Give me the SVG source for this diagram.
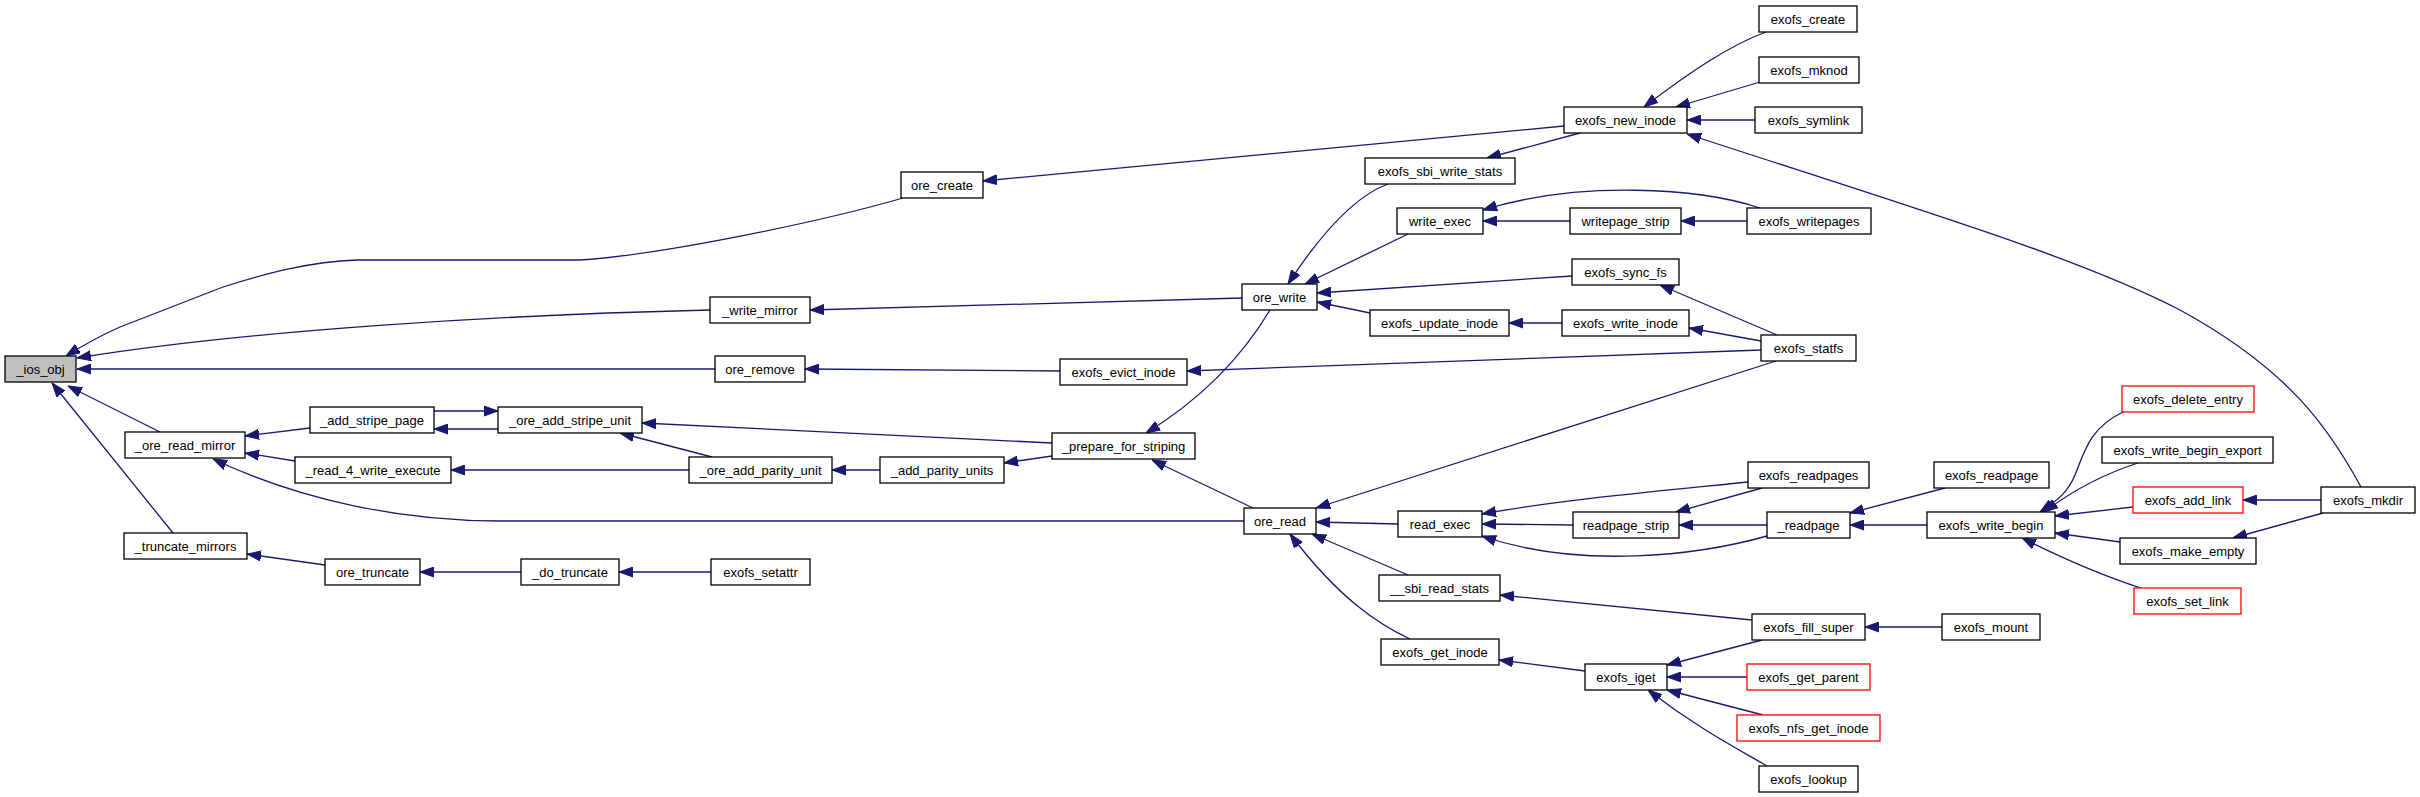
<svg xmlns="http://www.w3.org/2000/svg" width="2420" height="797" viewBox="0 0 2420 797">
<style>
.node rect{fill:#ffffff;stroke:#000000;stroke-width:1.3}
.node.root rect{fill:#bfbfbf}
.node.trunc rect{stroke:#ff0000}
.node text{font-family:"Liberation Sans",Arial,Helvetica,sans-serif;font-size:13px;fill:#000000;text-anchor:middle}
.edges path{fill:none;stroke:#191970;stroke-width:1.3;marker-end:url(#ah)}
</style>
<defs>
<marker id="ah" markerUnits="userSpaceOnUse" markerWidth="14" markerHeight="11" viewBox="0 0 14 11" refX="14" refY="5.5" orient="auto">
<path d="M0,0.5 L14,5.5 L0,10.5 z" fill="#191970" stroke="#191970" stroke-width="1"/>
</marker>
</defs>
<rect x="0" y="0" width="2420" height="797" fill="#ffffff"/>
<g id="edges" class="edges">
<path d="M903,198 C820,222 660,255 580,260 L357,260 C310,262 270,272 223,287 L120,327 C95,338 82,346 66,356"/>
<path d="M710,310 C500,315 250,330 77,358"/>
<path d="M715,369 L77,369"/>
<path d="M160,432 L68,386"/>
<path d="M173,533 L52,383"/>
<path d="M310,428 L245,436"/>
<path d="M295,461 L245,453"/>
<path d="M1244,521 L500,521 C400,521 300,500 213,459"/>
<path d="M498,429 L434,429"/>
<path d="M434,411 L498,411"/>
<path d="M689,470 L451,470"/>
<path d="M712,457 L620,433"/>
<path d="M1052,443 L642,423"/>
<path d="M880,470 L832,470"/>
<path d="M1052,456 L1004,463"/>
<path d="M1270,310 C1240,360 1200,400 1146,433"/>
<path d="M1253,508 L1152,460"/>
<path d="M1242,298 L810,310"/>
<path d="M1060,371 L805,369"/>
<path d="M1564,126 L983,181"/>
<path d="M1761,350 L1187,371"/>
<path d="M1572,276 L1317,293"/>
<path d="M1370,313 L1317,302"/>
<path d="M1408,234 L1305,284"/>
<path d="M1388,184 C1355,196 1320,235 1288,284"/>
<path d="M1580,133 L1487,158"/>
<path d="M1570,221 L1483,221"/>
<path d="M1760,208 C1700,188 1580,180 1483,210"/>
<path d="M1747,221 L1681,221"/>
<path d="M1562,323 L1509,323"/>
<path d="M1777,335 L1660,285"/>
<path d="M1761,341 L1689,328"/>
<path d="M1766,32 C1730,45 1690,72 1644,107"/>
<path d="M1760,82 L1676,107"/>
<path d="M1755,120 L1687,120"/>
<path d="M2361,487 C2330,430 2290,370 2180,310 C2080,258 1920,210 1687,134"/>
<path d="M1776,361 L1316,508"/>
<path d="M1398,524 L1316,522"/>
<path d="M1408,575 L1312,534"/>
<path d="M1410,639 C1380,625 1340,600 1290,534"/>
<path d="M1748,482 C1650,492 1560,500 1482,514"/>
<path d="M1573,525 L1482,524"/>
<path d="M1767,536 C1700,555 1580,570 1482,536"/>
<path d="M1762,488 L1676,512"/>
<path d="M1767,525 L1679,525"/>
<path d="M1927,525 L1850,525"/>
<path d="M1945,488 L1850,513"/>
<path d="M1752,620 L1500,595"/>
<path d="M1585,671 L1499,660"/>
<path d="M1762,640 L1667,665"/>
<path d="M1747,677 L1667,677"/>
<path d="M1763,715 L1667,690"/>
<path d="M1767,766 C1740,750 1700,730 1648,690"/>
<path d="M1942,627 L1865,627"/>
<path d="M2123,412 C2090,428 2085,450 2075,475 C2068,492 2058,500 2040,512"/>
<path d="M2138,463 C2110,472 2080,485 2044,512"/>
<path d="M2133,507 L2055,516"/>
<path d="M2120,542 L2055,533"/>
<path d="M2141,588 C2110,578 2070,562 2022,538"/>
<path d="M2321,500 L2243,500"/>
<path d="M2323,513 L2233,538"/>
<path d="M325,565 L247,554"/>
<path d="M521,572 L420,572"/>
<path d="M711,572 L619,572"/>
</g>
<g id="n_ios_obj" class="node root"><rect x="5" y="356" width="71" height="26"/><text x="40.5" y="373.5">_ios_obj</text></g>
<g id="n_ore_read_mirror" class="node"><rect x="125" y="432" width="120" height="26"/><text x="185" y="449.5">_ore_read_mirror</text></g>
<g id="n_truncate_mirrors" class="node"><rect x="124" y="533" width="123" height="26"/><text x="185.5" y="550.5">_truncate_mirrors</text></g>
<g id="n_add_stripe_page" class="node"><rect x="310" y="407" width="124" height="26"/><text x="372" y="424.5">_add_stripe_page</text></g>
<g id="n_read_4_write_execute" class="node"><rect x="295" y="457" width="156" height="26"/><text x="373" y="474.5">_read_4_write_execute</text></g>
<g id="n_ore_truncate" class="node"><rect x="325" y="559" width="95" height="26"/><text x="372.5" y="576.5">ore_truncate</text></g>
<g id="n_ore_add_stripe_unit" class="node"><rect x="498" y="407" width="144" height="26"/><text x="570" y="424.5">_ore_add_stripe_unit</text></g>
<g id="n_do_truncate" class="node"><rect x="521" y="559" width="98" height="26"/><text x="570" y="576.5">_do_truncate</text></g>
<g id="n_ore_add_parity_unit" class="node"><rect x="689" y="457" width="143" height="26"/><text x="760.5" y="474.5">_ore_add_parity_unit</text></g>
<g id="n_exofs_setattr" class="node"><rect x="711" y="559" width="99" height="26"/><text x="760.5" y="576.5">exofs_setattr</text></g>
<g id="n_write_mirror" class="node"><rect x="710" y="297" width="100" height="26"/><text x="760" y="314.5">_write_mirror</text></g>
<g id="n_ore_remove" class="node"><rect x="715" y="356" width="90" height="26"/><text x="760" y="373.5">ore_remove</text></g>
<g id="n_add_parity_units" class="node"><rect x="880" y="457" width="124" height="26"/><text x="942" y="474.5">_add_parity_units</text></g>
<g id="n_ore_create" class="node"><rect x="901" y="172" width="82" height="26"/><text x="942" y="189.5">ore_create</text></g>
<g id="n_prepare_for_striping" class="node"><rect x="1052" y="433" width="143" height="26"/><text x="1123.5" y="450.5">_prepare_for_striping</text></g>
<g id="n_exofs_evict_inode" class="node"><rect x="1060" y="359" width="127" height="26"/><text x="1123.5" y="376.5">exofs_evict_inode</text></g>
<g id="n_ore_write" class="node"><rect x="1242" y="284" width="75" height="26"/><text x="1279.5" y="301.5">ore_write</text></g>
<g id="n_ore_read" class="node"><rect x="1244" y="508" width="72" height="26"/><text x="1280" y="525.5">ore_read</text></g>
<g id="n_exofs_sbi_write_stats" class="node"><rect x="1365" y="158" width="150" height="26"/><text x="1440" y="175.5">exofs_sbi_write_stats</text></g>
<g id="n_write_exec" class="node"><rect x="1397" y="208" width="86" height="26"/><text x="1440" y="225.5">write_exec</text></g>
<g id="n_exofs_update_inode" class="node"><rect x="1370" y="310" width="139" height="26"/><text x="1439.5" y="327.5">exofs_update_inode</text></g>
<g id="n_read_exec" class="node"><rect x="1398" y="511" width="84" height="26"/><text x="1440" y="528.5">read_exec</text></g>
<g id="n_sbi_read_stats" class="node"><rect x="1379" y="575" width="121" height="26"/><text x="1439.5" y="592.5">__sbi_read_stats</text></g>
<g id="n_exofs_get_inode" class="node"><rect x="1381" y="639" width="118" height="26"/><text x="1440" y="656.5">exofs_get_inode</text></g>
<g id="n_exofs_new_inode" class="node"><rect x="1564" y="107" width="123" height="26"/><text x="1625.5" y="124.5">exofs_new_inode</text></g>
<g id="n_writepage_strip" class="node"><rect x="1570" y="208" width="111" height="26"/><text x="1625.5" y="225.5">writepage_strip</text></g>
<g id="n_exofs_sync_fs" class="node"><rect x="1572" y="259" width="107" height="26"/><text x="1625.5" y="276.5">exofs_sync_fs</text></g>
<g id="n_exofs_write_inode" class="node"><rect x="1562" y="310" width="127" height="26"/><text x="1625.5" y="327.5">exofs_write_inode</text></g>
<g id="n_readpage_strip" class="node"><rect x="1573" y="512" width="106" height="26"/><text x="1626" y="529.5">readpage_strip</text></g>
<g id="n_exofs_iget" class="node"><rect x="1585" y="664" width="82" height="26"/><text x="1626" y="681.5">exofs_iget</text></g>
<g id="n_exofs_create" class="node"><rect x="1759" y="6" width="98" height="26"/><text x="1808" y="23.5">exofs_create</text></g>
<g id="n_exofs_mknod" class="node"><rect x="1759" y="57" width="100" height="26"/><text x="1809" y="74.5">exofs_mknod</text></g>
<g id="n_exofs_symlink" class="node"><rect x="1755" y="107" width="107" height="26"/><text x="1808.5" y="124.5">exofs_symlink</text></g>
<g id="n_exofs_writepages" class="node"><rect x="1747" y="208" width="124" height="26"/><text x="1809" y="225.5">exofs_writepages</text></g>
<g id="n_exofs_statfs" class="node"><rect x="1761" y="335" width="95" height="26"/><text x="1808.5" y="352.5">exofs_statfs</text></g>
<g id="n_exofs_readpages" class="node"><rect x="1748" y="462" width="121" height="26"/><text x="1808.5" y="479.5">exofs_readpages</text></g>
<g id="n_readpage" class="node"><rect x="1767" y="512" width="83" height="26"/><text x="1808.5" y="529.5">_readpage</text></g>
<g id="n_exofs_fill_super" class="node"><rect x="1752" y="614" width="113" height="26"/><text x="1808.5" y="631.5">exofs_fill_super</text></g>
<g id="n_exofs_get_parent" class="node trunc"><rect x="1747" y="664" width="123" height="26"/><text x="1808.5" y="681.5">exofs_get_parent</text></g>
<g id="n_exofs_nfs_get_inode" class="node trunc"><rect x="1737" y="715" width="143" height="26"/><text x="1808.5" y="732.5">exofs_nfs_get_inode</text></g>
<g id="n_exofs_lookup" class="node"><rect x="1759" y="766" width="99" height="26"/><text x="1808.5" y="783.5">exofs_lookup</text></g>
<g id="n_exofs_readpage" class="node"><rect x="1934" y="462" width="115" height="26"/><text x="1991.5" y="479.5">exofs_readpage</text></g>
<g id="n_exofs_write_begin" class="node"><rect x="1927" y="512" width="128" height="26"/><text x="1991" y="529.5">exofs_write_begin</text></g>
<g id="n_exofs_mount" class="node"><rect x="1942" y="614" width="98" height="26"/><text x="1991" y="631.5">exofs_mount</text></g>
<g id="n_exofs_delete_entry" class="node trunc"><rect x="2122" y="386" width="132" height="26"/><text x="2188" y="403.5">exofs_delete_entry</text></g>
<g id="n_exofs_write_begin_export" class="node"><rect x="2102" y="437" width="171" height="26"/><text x="2187.5" y="454.5">exofs_write_begin_export</text></g>
<g id="n_exofs_add_link" class="node trunc"><rect x="2133" y="487" width="110" height="26"/><text x="2188" y="504.5">exofs_add_link</text></g>
<g id="n_exofs_make_empty" class="node"><rect x="2120" y="538" width="136" height="26"/><text x="2188" y="555.5">exofs_make_empty</text></g>
<g id="n_exofs_set_link" class="node trunc"><rect x="2134" y="588" width="107" height="26"/><text x="2187.5" y="605.5">exofs_set_link</text></g>
<g id="n_exofs_mkdir" class="node"><rect x="2321" y="487" width="94" height="26"/><text x="2368" y="504.5">exofs_mkdir</text></g>
</svg>
